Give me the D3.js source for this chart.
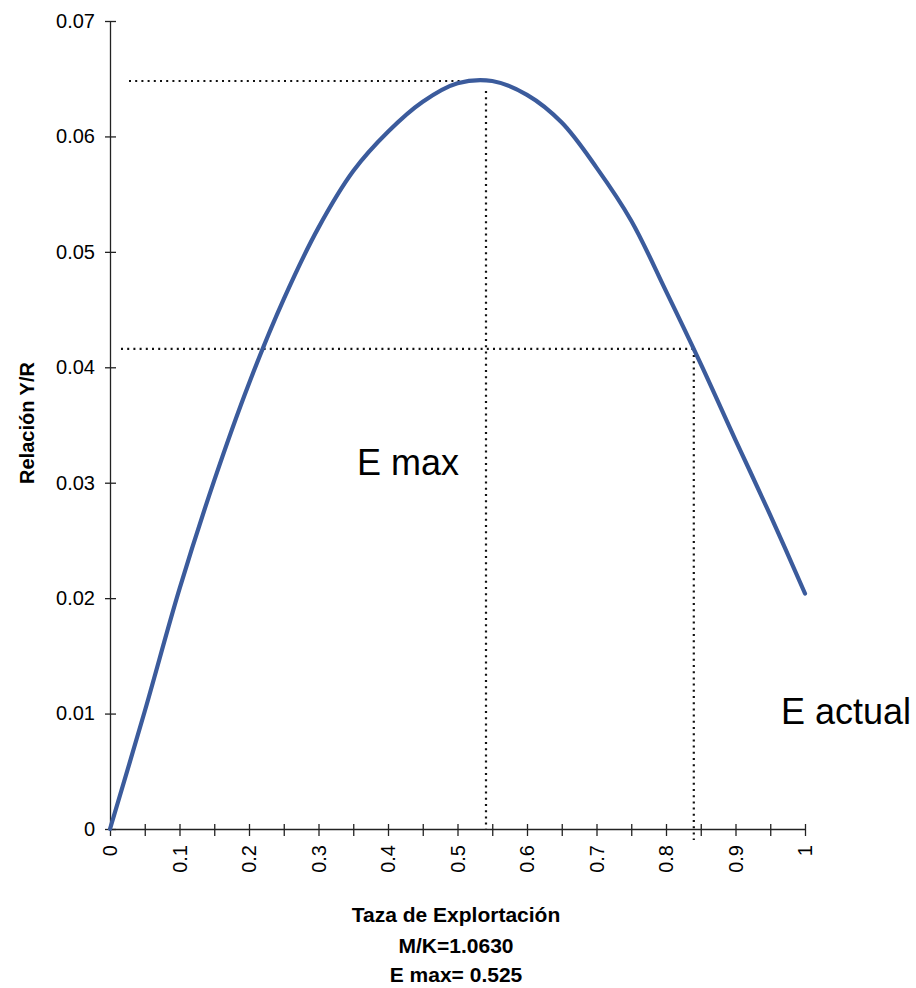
<!DOCTYPE html>
<html>
<head>
<meta charset="utf-8">
<script src="https://cdn.jsdelivr.net/npm/d3@7"></script>
<style>
  html, body { margin: 0; padding: 0; background: #fff; }
  svg { display: block; }
  text { font-family: "Liberation Sans", Arial, sans-serif; fill: #000; }
</style>
</head>
<body>
<svg id="chart" width="916" height="988"></svg>
<script>
// Data
const explotacion = [0, 0.05, 0.1, 0.15, 0.2, 0.25, 0.3, 0.35, 0.4, 0.45, 0.5,
                     0.55, 0.6, 0.65, 0.7, 0.75, 0.8, 0.85, 0.9, 0.95, 1];
const relacionYR = [0, 0.0102, 0.0208, 0.0302, 0.0386, 0.0459, 0.0521, 0.0570, 0.0604, 0.0630, 0.0646,
                    0.0648, 0.0636, 0.0612, 0.0573, 0.0527, 0.0466, 0.0403, 0.0337, 0.0272, 0.0204];
const yTicks = [0, 0.01, 0.02, 0.03, 0.04, 0.05, 0.06, 0.07];
const yTickLabels = ["0", "0.01", "0.02", "0.03", "0.04", "0.05", "0.06", "0.07"];
const xTickLabels = ["0", "0.1", "0.2", "0.3", "0.4", "0.5", "0.6", "0.7", "0.8", "0.9", "1"];
const eMaxX = 0.541, eMaxY = 0.0648;
const eActX = 0.84, eActY = 0.0416;
const xTitleLines = ["Taza de Explortación", "M/K=1.0630", "E max= 0.525"];
const yTitle = "Relación Y/R";

const svg = d3.select("#chart");
const x = d3.scaleLinear().domain([0, 1]).range([110, 805]);
const y = d3.scaleLinear().domain([0, 0.07]).range([829, 21]);

// Y axis
const yAxis = svg.append("g").attr("transform", `translate(${x(0)},0)`)
  .call(d3.axisLeft(y).tickValues(yTicks).tickFormat((d, i) => yTickLabels[i]).tickSizeOuter(0).tickSize(0));
yAxis.select(".domain").attr("stroke", "#222").attr("stroke-width", 1.3);
yAxis.selectAll(".tick line").attr("x1", -5).attr("x2", 6).attr("stroke", "#222").attr("stroke-width", 1.3);
yAxis.selectAll(".tick text").attr("x", -15).attr("font-size", 20).attr("font-family", "Liberation Sans, Arial, sans-serif");

// X axis
const xAxis = svg.append("g").attr("transform", `translate(0,${y(0)})`)
  .call(d3.axisBottom(x).tickValues(explotacion).tickFormat(() => "").tickSizeOuter(0).tickSize(0));
xAxis.select(".domain").attr("stroke", "#222").attr("stroke-width", 1.3);
xAxis.selectAll(".tick line").attr("y1", -5).attr("y2", 7).attr("stroke", "#222").attr("stroke-width", 1.3);
xAxis.selectAll(".tick text").remove();

svg.append("g").selectAll("text").data(xTickLabels).join("text")
  .attr("transform", (d) => `translate(${x(+d)},845) rotate(-90)`)
  .attr("text-anchor", "end").attr("dy", "0.35em")
  .attr("font-size", 20).text(d => d);

// Dotted reference lines
const dot = g => g.attr("stroke", "#111").attr("stroke-width", 2.2).attr("stroke-dasharray", "2,4.2").attr("fill", "none");
svg.append("line").call(dot).attr("x1", 129).attr("x2", x(eMaxX)).attr("y1", y(eMaxY)).attr("y2", y(eMaxY));
svg.append("line").call(dot).attr("x1", x(eMaxX)).attr("x2", x(eMaxX)).attr("y1", y(eMaxY) + 10).attr("y2", y(0));
svg.append("line").call(dot).attr("x1", 121).attr("x2", x(eActX)).attr("y1", y(eActY)).attr("y2", y(eActY));
svg.append("line").call(dot).attr("x1", x(eActX)).attr("x2", x(eActX)).attr("y1", y(eActY)).attr("y2", y(0) + 11);

// Curve
const line = d3.line().x((d, i) => x(explotacion[i])).y(d => y(d)).curve(d3.curveCatmullRom.alpha(0.5));
svg.append("path").datum(relacionYR)
  .attr("d", line).attr("fill", "none")
  .attr("stroke", "#3b5b9c").attr("stroke-width", 4.2)
  .attr("stroke-linejoin", "round").attr("stroke-linecap", "round");

// Annotations
svg.append("text").attr("x", 357).attr("y", 475).attr("font-size", 36).text("E max");
svg.append("text").attr("x", 781).attr("y", 724).attr("font-size", 36).text("E actual");

// Axis titles
svg.append("text").attr("transform", "translate(27,423) rotate(-90)")
  .attr("text-anchor", "middle").attr("dy", "0.35em")
  .attr("font-size", 20).attr("font-weight", "bold").text(yTitle);

svg.append("g").selectAll("text").data(xTitleLines).join("text")
  .attr("x", 456).attr("y", (d, i) => [922, 953, 982][i])
  .attr("text-anchor", "middle").attr("font-size", 21).attr("font-weight", "bold")
  .text(d => d);
</script>
</body>
</html>
